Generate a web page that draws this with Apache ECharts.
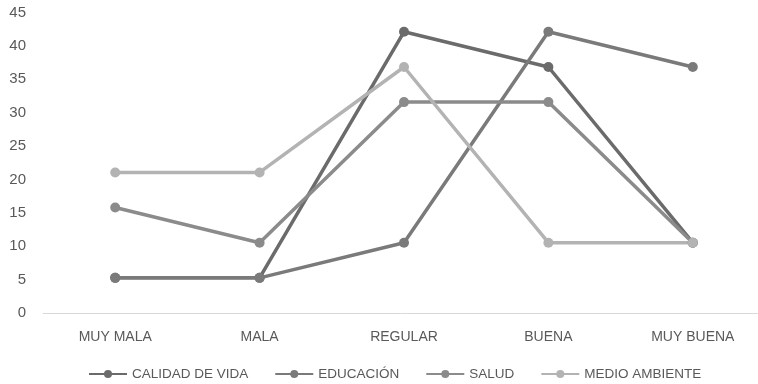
<!DOCTYPE html>
<html>
<head>
<meta charset="utf-8">
<script src="https://cdn.jsdelivr.net/npm/echarts@6/dist/echarts.min.js"></script>
<style>
  html, body { margin: 0; padding: 0; background: #fff; }
  #chart { width: 758px; height: 384px; }
</style>
</head>
<body>
<div id="chart"></div>
<script>
// Response categories (x axis)
const categories = ['MUY MALA', 'MALA', 'REGULAR', 'BUENA', 'MUY BUENA'];

// Percentage of answers per topic
const calidadDeVida = [5.26, 5.26, 42.11, 36.84, 10.53];
const educacion     = [5.26, 5.26, 10.53, 42.11, 36.84];
const salud         = [15.79, 10.53, 31.58, 31.58, 10.53];
const medioAmbiente = [21.05, 21.05, 36.84, 10.53, 10.53];

const seriesNames = ['CALIDAD DE VIDA', 'EDUCACIÓN', 'SALUD', 'MEDIO AMBIENTE'];
const seriesData = [calidadDeVida, educacion, salud, medioAmbiente];
const seriesColors = ['#6b6b6b', '#7a7a7a', '#8b8b8b', '#b3b3b3'];

const font = '"Liberation Sans", Arial, sans-serif';

const chart = echarts.init(document.getElementById('chart'));
chart.setOption({
  animation: false,
  textStyle: { fontFamily: font },
  // plot area runs a little past the right edge of the canvas
  grid: {
    left: 43, width: 722, top: 12.5, height: 300.5,
    containLabel: false, outerBoundsMode: 'none'
  },
  legend: {
    top: 362,
    left: 83,
    itemWidth: 38,
    itemHeight: 10,
    itemGap: 26,
    textStyle: { color: '#595959', fontSize: 13.5, fontFamily: font },
    data: seriesNames
  },
  xAxis: {
    type: 'category',
    data: categories,
    boundaryGap: true,
    axisLine: { lineStyle: { color: '#d9d9d9', width: 1 } },
    axisTick: { show: false },
    axisLabel: { color: '#595959', fontSize: 14, margin: 17, fontFamily: font }
  },
  yAxis: {
    type: 'value',
    min: 0,
    max: 45,
    interval: 5,
    axisLine: { show: false },
    axisTick: { show: false },
    splitLine: { show: false },
    axisLabel: { color: '#595959', fontSize: 15, margin: 17, fontFamily: font }
  },
  series: seriesNames.map((name, i) => ({
    name,
    type: 'line',
    data: seriesData[i],
    color: seriesColors[i],
    symbol: 'circle',
    symbolSize: 10,
    lineStyle: { width: 3.5, color: seriesColors[i] },
    itemStyle: { color: seriesColors[i] }
  }))
});
</script>
</body>
</html>
